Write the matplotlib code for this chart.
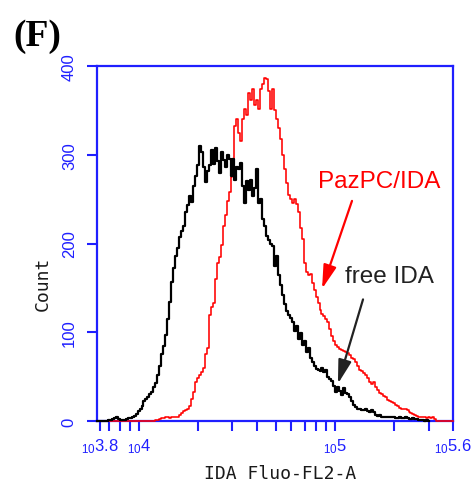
import numpy as np
import matplotlib
matplotlib.use("Agg")
from matplotlib import pyplot as plt
from matplotlib.ticker import LogLocator, NullFormatter

plt.rcParams['mathtext.fontset'] = 'custom'
plt.rcParams['mathtext.rm'] = 'Liberation Sans'

BLUE = '#1f1fff'

# log10 channel of each histogram bin
channel_log = np.linspace(3.786, 5.602, 181)

free_ida = [
    0, 0, 0, 0, 0, 0, 1, 1, 2, 3,
    4, 2, 1, 1, 1, 2, 3, 3, 4, 6,
    8, 11, 14, 17, 22, 25, 27, 30, 33, 38,
    43, 52, 62, 75, 84, 97, 115, 134, 157, 172,
    186, 195, 207, 214, 220, 235, 243, 254, 247, 265,
    276, 288, 310, 303, 286, 269, 282, 289, 305, 290,
    308, 293, 280, 303, 294, 286, 300, 295, 276, 295,
    272, 286, 284, 291, 265, 246, 270, 260, 272, 254,
    262, 284, 246, 250, 228, 220, 209, 204, 200, 197,
    175, 186, 165, 153, 142, 132, 124, 120, 116, 112,
    101, 107, 92, 99, 86, 90, 78, 82, 71, 66,
    62, 59, 58, 56, 60, 55, 58, 50, 47, 45,
    40, 33, 38, 34, 29, 37, 31, 30, 27, 22,
    18, 16, 14, 13, 12, 12, 14, 11, 10, 12,
    10, 7, 6, 7, 5, 4, 5, 5, 4, 5,
    4, 3, 3, 4, 3, 3, 4, 3, 2, 2,
    3, 2, 2, 1, 1, 1, 0, 1, 0,
]

pazpc_ida = [0] * 30 + [
    1, 1, 2, 3, 3, 4, 4, 3, 4, 5,
    4, 5, 7, 9, 11, 12, 14, 17, 25, 33,
    44, 49, 52, 55, 60, 75, 82, 120, 128, 133,
    160, 178, 185, 198, 220, 232, 248, 258, 275, 295,
    332, 340, 325, 316, 340, 352, 345, 370, 362, 374,
    356, 362, 352, 374, 380, 387, 385, 372, 352, 374,
    350, 340, 330, 318, 300, 284, 268, 255, 250, 246,
    250, 244, 235, 218, 205, 178, 168, 164, 166, 155,
    148, 140, 133, 125, 121, 118, 115, 111, 104, 96,
    90, 86, 83, 81, 80, 79, 78, 77, 74, 71,
    70, 67, 62, 58, 56, 54, 52, 48, 44, 42,
    44, 38, 35, 32, 30, 28, 27, 24, 22, 21,
    20, 18, 17, 15, 14, 13, 13, 12, 10, 9,
    8, 7, 6, 5, 5, 4, 5, 3, 4, 3,
    4, 2, 0, 0, 0, 0, 0, 0, 0, 0, 0,
]

x_major = [3.8, 4, 5, 5.6]
x_major_labels = ['3.8', '4', '5', '5.6']
y_ticks = [0, 100, 200, 300, 400]

fig = plt.figure(figsize=(4.75, 4.85), dpi=100)
ax = fig.add_axes([97 / 475, 63 / 485, 356 / 475, 355 / 485])

ax.plot(10 ** channel_log, pazpc_ida, drawstyle='steps-mid', color='red',
        lw=1.15, zorder=3, clip_on=False)
ax.plot(10 ** channel_log[:len(free_ida)], free_ida, drawstyle='steps-mid',
        color='black', lw=1.6, zorder=4, clip_on=False)

ax.set_xscale('log')
ax.set_xlim(10 ** 3.786, 10 ** 5.602)
ax.set_ylim(0, 400)

ax.set_xticks([10 ** v for v in x_major])
ax.set_xticklabels([r'$\mathrm{_{10}' + s + '}$' for s in x_major_labels])
ax.xaxis.set_minor_locator(LogLocator(base=10, subs=np.arange(2, 10)))
ax.xaxis.set_minor_formatter(NullFormatter())
ax.set_yticks(y_ticks)
ax.set_yticklabels([str(v) for v in y_ticks], rotation=90, va='center')

for sp in ax.spines.values():
    sp.set_color(BLUE)
    sp.set_linewidth(1.6)
ax.tick_params(axis='both', which='both', direction='out', length=7.5,
               width=1.5, color=BLUE, labelcolor=BLUE, labelsize=12)
ax.tick_params(axis='x', pad=3.5)
ax.tick_params(axis='y', pad=7)
for lab in ax.get_xticklabels() + ax.get_yticklabels():
    lab.set_family('Liberation Sans')

fig.text(280 / 475, 1 - 474 / 485, 'IDA Fluo-FL2-A', family='DejaVu Sans Mono',
         fontsize=13, color='#1a1a1a', ha='center', va='center')
fig.text(43 / 475, 1 - 284 / 485, 'Count', family='DejaVu Sans Mono',
         fontsize=13, color='#1a1a1a', ha='center', va='center', rotation=90)
fig.text(13 / 475, 1 - 46 / 485, '(F)', family='Liberation Serif',
         weight='bold', fontsize=27, va='baseline')

# labels with arrows pointing into the right-hand tails
ax.text(81800, 264, 'PazPC/IDA', color='red', fontsize=17.5,
        family='Liberation Sans', va='baseline')
ax.annotate('', xy=(85900, 149), xytext=(122100, 248),
            arrowprops=dict(arrowstyle='-|>,head_length=0.9,head_width=0.25',
                            color='red', lw=1.6, mutation_scale=16,
                            shrinkA=0, shrinkB=0))
ax.text(112500, 157, 'free IDA', color='#222222', fontsize=17.5,
        family='Liberation Sans', va='baseline')
ax.annotate('', xy=(103500, 42), xytext=(139000, 137),
            arrowprops=dict(arrowstyle='-|>,head_length=0.9,head_width=0.25',
                            color='#222222', lw=1.6, mutation_scale=16,
                            shrinkA=0, shrinkB=0), zorder=5)

fig.savefig('out.png', dpi=100)
